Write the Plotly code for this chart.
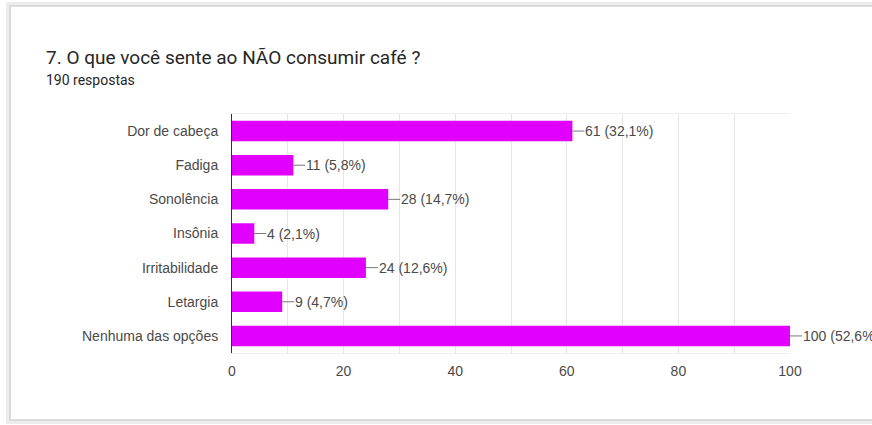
import plotly.graph_objects as go

# Survey question data
categories = ["Dor de cabeça", "Fadiga", "Sonolência", "Insônia",
              "Irritabilidade", "Letargia", "Nenhuma das opções"]
counts = [61, 11, 28, 4, 24, 9, 100]
percent_labels = ["32,1%", "5,8%", "14,7%", "2,1%", "12,6%", "4,7%", "52,6%"]
x_ticks = [0, 20, 40, 60, 80, 100]
total_responses = 190

question = "7. O que você sente ao NÃO consumir café ?"
subtitle = f"{total_responses} respostas"

W, H = 872, 425
L, R, T, B = 232, 82, 114, 72
PW, PH = W - L - R, H - T - B


def px_x(px):
    return (px - L) / PW


def px_y(py):
    return (H - B - py) / PH


BAR_COLOR = "#e100ff"
LABEL_COLOR = "#4a4a4a"
FONT = "Liberation Sans, Arial"

fig = go.Figure(
    go.Bar(
        x=counts,
        y=categories,
        orientation="h",
        marker=dict(color=BAR_COLOR, line=dict(width=0)),
        width=0.6,
        hoverinfo="skip",
    )
)

# value labels with a short leader line
for cat, val, pct in zip(categories, counts, percent_labels):
    fig.add_annotation(
        x=val, y=cat, xref="x", yref="y",
        text=f"{val} ({pct})",
        showarrow=True, arrowhead=0, arrowwidth=1, arrowcolor="#777777",
        ax=12, ay=0, xanchor="left", standoff=0, startstandoff=0,
        font=dict(family=FONT, size=14, color=LABEL_COLOR),
        borderpad=0,
    )

# card background with soft shadow
fig.add_shape(type="rect", xref="paper", yref="paper", layer="below",
              x0=px_x(8), x1=px_x(882), y0=px_y(422), y1=px_y(4),
              line=dict(color="#ededed", width=4), fillcolor="white")
fig.add_shape(type="rect", xref="paper", yref="paper", layer="below",
              x0=px_x(10), x1=px_x(880), y0=px_y(420), y1=px_y(6),
              line=dict(color="#d2d2d2", width=1.5), fillcolor="white")

fig.add_annotation(
    x=px_x(44), y=px_y(57), xref="paper", yref="paper",
    text=question, showarrow=False, xanchor="left", yanchor="middle",
    font=dict(family="Roboto, Open Sans", size=19, color="#262626"),
)
fig.add_annotation(
    x=px_x(44), y=px_y(80), xref="paper", yref="paper",
    text=subtitle, showarrow=False, xanchor="left", yanchor="middle",
    font=dict(family="Roboto, Open Sans", size=14, color="#262626"),
)

fig.update_layout(
    width=W, height=H,
    margin=dict(l=L, r=R, t=T, b=B, pad=0),
    paper_bgcolor="white",
    plot_bgcolor="rgba(0,0,0,0)",
    showlegend=False,
    bargap=0.4,
    xaxis=dict(
        range=[0, 100], tickvals=x_ticks,
        showgrid=True, gridcolor="#e6e6e6", gridwidth=1,
        minor=dict(dtick=10, showgrid=True, gridcolor="#e6e6e6", gridwidth=1),
        zeroline=False, showline=True, mirror=True, linecolor="#eeeeee",
        ticks="outside", ticklen=5, tickcolor="rgba(0,0,0,0)",
        tickfont=dict(family=FONT, size=14, color=LABEL_COLOR),
        fixedrange=True,
    ),
    yaxis=dict(
        autorange="reversed",
        showgrid=False, zeroline=False,
        showline=True, linecolor="#333333", linewidth=1,
        ticks="outside", ticklen=10, tickcolor="rgba(0,0,0,0)",
        tickfont=dict(family=FONT, size=14, color=LABEL_COLOR),
        fixedrange=True,
    ),
)

fig.write_html("out.html", config={"displayModeBar": False})
